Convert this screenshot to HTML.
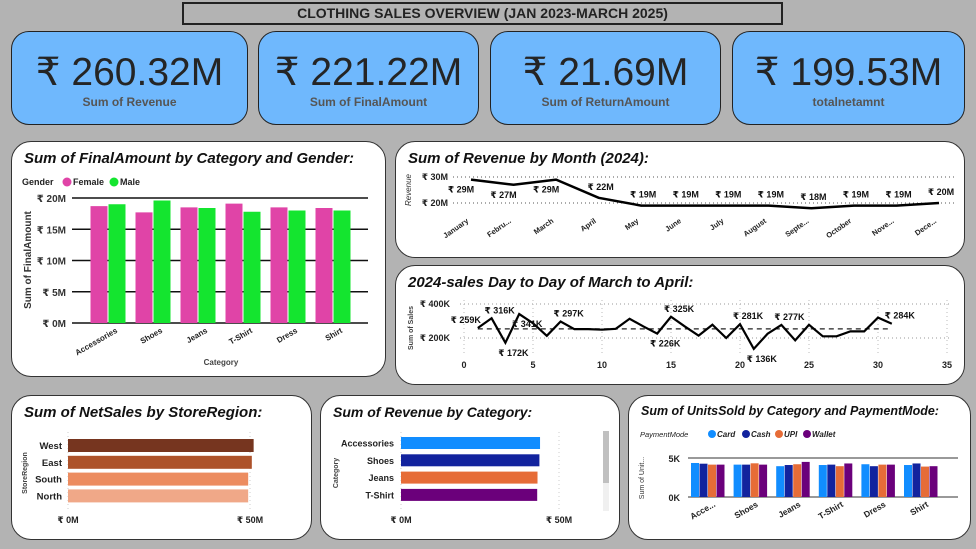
<!DOCTYPE html>
<html><head><meta charset="utf-8">
<style>
*{box-sizing:border-box;margin:0;padding:0}
body{width:976px;height:549px;background:#b3b3b3;font-family:"Liberation Sans","DejaVu Sans",sans-serif;position:relative;overflow:hidden}
.abs{position:absolute}
.title{left:182px;top:2px;width:601px;height:23px;border:2px solid #222;background:#b3b3b3;text-align:center;font-weight:bold;font-size:14px;line-height:19px;color:#222}
.card{background:#6fb8fd;border:1.5px solid #222;border-radius:18px;text-align:center;color:#252525}
.card .v{font-size:39px;margin-top:19px;line-height:44px}
.card .l{font-size:12px;color:#555;font-weight:bold;margin-top:0px}
.panel{background:#fff;border:1.5px solid #333;border-radius:20px}
.pt{position:absolute;left:12px;top:8px;font-weight:bold;font-style:italic;font-size:15px;color:#111}
svg text{font-family:"Liberation Sans","DejaVu Sans",sans-serif}
</style></head><body>
<div class="abs title">CLOTHING SALES OVERVIEW (JAN 2023-MARCH 2025)</div>
<div class="abs card" style="left:11px;top:31px;width:237px;height:94px"><div class="v">₹ 260.32M</div><div class="l">Sum of Revenue</div></div>
<div class="abs card" style="left:258px;top:31px;width:221px;height:94px"><div class="v">₹ 221.22M</div><div class="l">Sum of FinalAmount</div></div>
<div class="abs card" style="left:490px;top:31px;width:231px;height:94px"><div class="v">₹ 21.69M</div><div class="l">Sum of ReturnAmount</div></div>
<div class="abs card" style="left:732px;top:31px;width:233px;height:94px"><div class="v">₹ 199.53M</div><div class="l">totalnetamnt</div></div>

<div class="abs panel" style="left:11px;top:141px;width:375px;height:236px"><div class="pt">Sum of FinalAmount by Category and Gender:</div></div>
<div class="abs panel" style="left:395px;top:141px;width:570px;height:117px"><div class="pt">Sum of Revenue by Month (2024):</div></div>
<div class="abs panel" style="left:395px;top:265px;width:570px;height:120px"><div class="pt">2024-sales Day to Day of March to April:</div></div>
<div class="abs panel" style="left:11px;top:395px;width:301px;height:145px"><div class="pt">Sum of NetSales by StoreRegion:</div></div>
<div class="abs panel" style="left:320px;top:395px;width:300px;height:145px"><div class="pt" style="font-size:14px">Sum of Revenue by Category:</div></div>
<div class="abs panel" style="left:628px;top:395px;width:343px;height:145px"><div class="pt" style="font-size:12.5px">Sum of UnitsSold by Category and PaymentMode:</div></div>
<div class="abs" style="left:603px;top:431px;width:6px;height:80px;background:#f0f0f0"><div style="width:6px;height:52px;background:#c0c0c0"></div></div>

<svg id="s" class="abs" style="left:0;top:0" width="976" height="549" xmlns="http://www.w3.org/2000/svg"></svg>
<script>
const catsA=["Accessories","Shoes","Jeans","T-Shirt","Dress","Shirt"];
const femaleA=[18.7,17.7,18.5,19.1,18.5,18.4];
const maleA=[19.0,19.6,18.4,17.8,18.0,18.0];
const ticksA=[0,5,10,15,20];
const months=["January","Febru...","March","April","May","June","July","August","Septe...","October","Nove...","Dece..."];
const revMonth=[29,27,29,22,19,19,19,19,18,19,19,20];
const days=[1,2,3,4,5,6,7,8,9,10,11,12,13,14,15,16,17,18,19,20,21,22,23,24,25,26,27,28,29,30,31];
const daySales=[259,316,172,341,287,213,297,252,252,249,254,313,268,226,325,268,214,278,200,281,136,225,277,186,278,210,210,239,239,320,284];
const dayLabelIdx=[0,1,2,3,6,13,14,19,20,22,30];
const dayTicks=[0,5,10,15,20,25,30,35];
const regions=["West","East","South","North"];
const regionVals=[51,50.5,49.5,49.5];
const regionColors=["#76351f","#ad522a","#ec8c60","#f0a888"];
const revCats=["Accessories","Shoes","Jeans","T-Shirt"];
const revCatVals=[44,43.8,43.2,43.1];
const revCatColors=["#118dff","#12239e","#e66c37","#6b007b"];
const payModes=["Card","Cash","UPI","Wallet"];
const payColors=["#118dff","#12239e","#e66c37","#6b007b"];
const catsF=["Acce...","Shoes","Jeans","T-Shirt","Dress","Shirt"];
const unitsF=[[4.36,4.27,4.15,4.15],[4.15,4.15,4.32,4.15],[3.95,4.1,4.2,4.5],[4.1,4.15,3.95,4.3],[4.2,3.95,4.15,4.15],[4.1,4.3,3.9,3.95]];

const S=document.getElementById('s');const NS="http://www.w3.org/2000/svg";
function mk(t,a,txt){const e=document.createElementNS(NS,t);for(const k in a)e.setAttribute(k,a[k]);if(txt!==undefined)e.textContent=txt;S.appendChild(e);return e;}

// Chart A
{const y=v=>323-v*(125/20);const x=i=>108+i*45;
ticksA.forEach(t=>{const g=mk('line',{x1:72,x2:368,y1:y(t),y2:y(t),stroke:'#111','stroke-width':1.5});
const l=mk('text',{x:66,y:y(t)+4,'text-anchor':'end','font-size':10,'font-weight':'bold',fill:'#333'},'₹ '+t+'M');});
catsA.forEach((c,i)=>{const b1=mk('rect',{x:x(i)-17.5,y:y(femaleA[i]),width:17,height:y(0)-y(femaleA[i]),fill:'#e044a7'});
const b2=mk('rect',{x:x(i)+0.5,y:y(maleA[i]),width:17,height:y(0)-y(maleA[i]),fill:'#14e52f'});
const l=mk('text',{transform:`translate(${x(i)+10},${332}) rotate(-30)`,'text-anchor':'end','font-size':8,'font-weight':'bold',fill:'#222'},c);});
let t=mk('text',{x:221,y:365,'text-anchor':'middle','font-size':8,'font-weight':'bold',fill:'#444'},'Category');
t=mk('text',{transform:'translate(31,260) rotate(-90)','text-anchor':'middle','font-size':10,'font-weight':'bold',fill:'#333'},'Sum of FinalAmount');
t=mk('text',{x:22,y:185,'font-size':9,'font-weight':'bold',fill:'#222'},'Gender');
[['Female','#e044a7',67],['Male','#14e52f',114]].forEach(([n,c,lx])=>{const d=mk('circle',{cx:lx,cy:182,r:4.5,fill:c});
const e=mk('text',{x:lx+6,y:185,'font-size':9,'font-weight':'bold',fill:'#222'},n);});}

// Chart B
{const y=v=>203-(v-20)*2.6;const x=i=>471+i*(468/11);
[20,30].forEach(t=>{const g=mk('line',{x1:453,x2:955,y1:y(t),y2:y(t),stroke:'#555','stroke-dasharray':'1,3'});
const l=mk('text',{x:448,y:y(t)+3,'text-anchor':'end','font-size':9,'font-weight':'bold',fill:'#222'},'₹ '+t+'M');});
const p=mk('polyline',{points:revMonth.map((v,i)=>x(i)+','+y(v)).join(' '),fill:'none',stroke:'#000','stroke-width':2.5});
revMonth.forEach((v,i)=>{const l=mk('text',{x:x(i)+(i<3?-10:2),y:i<3?y(v)+13:y(v)-8,'text-anchor':'middle','font-size':9,'font-weight':'bold',fill:'#111'},'₹ '+v+'M');
const m=mk('text',{transform:`translate(${x(i)-2},${222}) rotate(-35)`,'text-anchor':'end','font-size':7.5,'font-weight':'bold',fill:'#222'},months[i]);});
const t=mk('text',{transform:'translate(411,190) rotate(-90)','text-anchor':'middle','font-size':8,'font-style':'italic',fill:'#333'},'Revenue');}

// Chart C
{const x=d=>464+d*(483/35);const y=v=>338-(v-200)*(34/200);
[200,400].forEach(t=>{const g=mk('line',{x1:460,x2:952,y1:y(t),y2:y(t),stroke:'#999','stroke-dasharray':'1,3'});
const l=mk('text',{x:450,y:y(t)+3,'text-anchor':'end','font-size':9,'font-weight':'bold',fill:'#222'},'₹ '+t+'K');});
dayTicks.forEach(t=>{const g=mk('line',{x1:x(t),x2:x(t),y1:300,y2:355,stroke:'#bbb','stroke-dasharray':'1,3'});
const l=mk('text',{x:x(t),y:368,'text-anchor':'middle','font-size':9,'font-weight':'bold',fill:'#222'},t);});
const avg=daySales.reduce((a,b)=>a+b,0)/daySales.length;
const a=mk('line',{x1:x(1),x2:x(31),y1:y(avg),y2:y(avg),stroke:'#222','stroke-dasharray':'5,4','stroke-width':1.2});
const p=mk('polyline',{points:daySales.map((v,i)=>x(days[i])+','+y(v)).join(' '),fill:'none',stroke:'#000','stroke-width':2.2});
dayLabelIdx.forEach(i=>{const v=daySales[i];const up=v>avg;const l=mk('text',{x:x(days[i])+(i==0?-12:8),y:up&&i!=3?y(v)-5:y(v)+13,'text-anchor':'middle','font-size':9,'font-weight':'bold',fill:'#111'},'₹ '+v+'K');});
const t=mk('text',{transform:'translate(413,328) rotate(-90)','text-anchor':'middle','font-size':7,'font-weight':'bold',fill:'#444'},'Sum of Sales');}

// Chart D
{const x=v=>68+v*(182/50);
[0,50].forEach(t=>{const g=mk('line',{x1:x(t),x2:x(t),y1:432,y2:510,stroke:'#ccc','stroke-dasharray':'1,3'});
const l=mk('text',{x:x(t),y:523,'text-anchor':'middle','font-size':9,'font-weight':'bold',fill:'#222'},'₹ '+t+'M');});
regions.forEach((r,i)=>{const yy=439+i*16.8;const b=mk('rect',{x:68,y:yy,width:x(regionVals[i])-68,height:13,fill:regionColors[i]});
const l=mk('text',{x:62,y:yy+10,'text-anchor':'end','font-size':9.5,'font-weight':'bold',fill:'#222'},r);});
const t=mk('text',{transform:'translate(27,473) rotate(-90)','text-anchor':'middle','font-size':7,'font-weight':'bold',fill:'#444'},'StoreRegion');}

// Chart E
{const x=v=>401+v*(158/50);
[0,50].forEach(t=>{const g=mk('line',{x1:x(t),x2:x(t),y1:432,y2:510,stroke:'#ccc','stroke-dasharray':'1,3'});
const l=mk('text',{x:x(t),y:523,'text-anchor':'middle','font-size':9,'font-weight':'bold',fill:'#222'},'₹ '+t+'M');});
revCats.forEach((c,i)=>{const yy=437+i*17.3;const b=mk('rect',{x:401,y:yy,width:x(revCatVals[i])-401,height:12,fill:revCatColors[i]});
const l=mk('text',{x:394,y:yy+9.5,'text-anchor':'end','font-size':9,'font-weight':'bold',fill:'#222'},c);});
const t=mk('text',{transform:'translate(338,473) rotate(-90)','text-anchor':'middle','font-size':7,'font-weight':'bold',fill:'#444'},'Category');}

// Chart F
{const y=v=>497-v*(39/5);const cx=i=>708+i*42.6;
[0,5].forEach(t=>{const g=mk('line',{x1:688,x2:958,y1:y(t),y2:y(t),stroke:'#333','stroke-width':1});
const l=mk('text',{x:680,y:y(t)+4,'text-anchor':'end','font-size':9,'font-weight':'bold',fill:'#222'},t+'K');});
catsF.forEach((c,i)=>{unitsF[i].forEach((v,j)=>{const b=mk('rect',{x:cx(i)-17+j*8.5,y:y(v),width:8,height:y(0)-y(v),fill:payColors[j]});});
const l=mk('text',{transform:`translate(${cx(i)+8},${506}) rotate(-30)`,'text-anchor':'end','font-size':8.5,'font-weight':'bold',fill:'#222'},c);});
let t=mk('text',{transform:'translate(644,478) rotate(-90)','text-anchor':'middle','font-size':7,fill:'#333'},'Sum of Unit...');
t=mk('text',{x:640,y:437,'font-size':7.5,'font-style':'italic',fill:'#222'},'PaymentMode');
const lx=[712,746,779,807];
payModes.forEach((p,j)=>{const d=mk('circle',{cx:lx[j],cy:434,r:4,fill:payColors[j]});
const e=mk('text',{x:lx[j]+5,y:437,'font-size':8,'font-style':'italic','font-weight':'bold',fill:'#222'},p);});}
</script>
</body></html>
